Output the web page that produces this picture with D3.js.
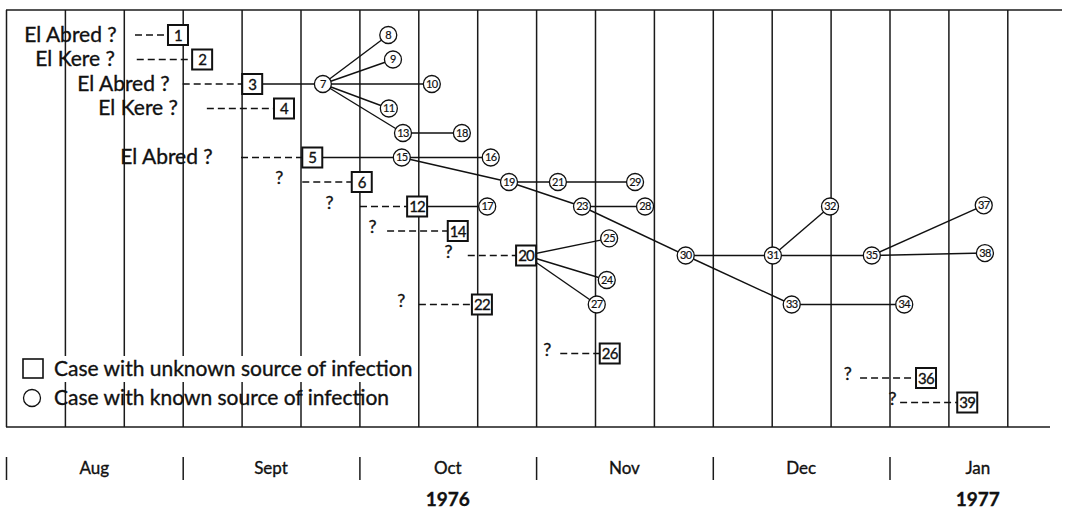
<!DOCTYPE html>
<html>
	<head>
		<meta charset="utf-8">
		<title>Transmission chart 1976-1977</title>
		<script src="https://cdn.jsdelivr.net/npm/d3@7"></script>
		<style>
			body { margin: 0; background: #fff; }
			text { font-family: Lato, "Open Sans", sans-serif; fill: #111; stroke: #111; stroke-width: 0.35px; }
		</style>
	</head>
	<body>
		<div id="root"></div>
		<script>
			//x values are in 10-day periods counted from 1 Aug 1976, rows count down from the top
			const monthNames = ["Aug", "Sept", "Oct", "Nov", "Dec", "Jan"];
			const yearLabels = ["1976", "1977"];
			const yearMonth = [2, 5];

			//cases with unknown source of infection (squares)
			const unknownIds = [1, 2, 3, 4, 5, 6, 12, 14, 20, 22, 26, 36, 39];
			const unknownX = [2.92, 3.33, 4.18, 4.72, 5.20, 6.04, 6.98, 7.67, 8.83, 8.08, 10.25, 15.62, 16.32];
			const unknownRow = [0, 1, 2, 3, 5, 6, 7, 8, 9, 11, 13, 14, 15];
			const sourceLabels = ["El Abred ?", "El Kere ?", "El Abred ?", "El Kere ?", "El Abred ?",
				"?", "?", "?", "?", "?", "?", "?", "?"];
			const sourceLabelEnd = [1.88, 1.85, 2.78, 2.92, 3.51, 4.71, 5.56, 6.29, 7.58, 6.78, 9.26, 14.36, 15.12];
			const dashStart = [2.19, 2.22, 3.00, 3.41, 3.99, 5.03, 6.01, 6.47, 7.84, 7.01, 9.41, 14.50, 15.18];

			//cases with known source of infection (circles)
			const knownIds = [7, 8, 9, 10, 11, 13, 15, 16, 17, 18, 19, 21, 23, 24, 25, 27, 28, 29, 30, 31, 32, 33, 34, 35, 37, 38];
			const knownX = [5.38, 6.49, 6.57, 7.23, 6.50, 6.74, 6.72, 8.23, 8.17, 7.74, 8.54, 9.37, 9.78, 10.20, 10.24, 10.03,
				10.85, 10.68, 11.54, 13.02, 13.99, 13.34, 15.25, 14.70, 16.60, 16.62];
			const knownRow = [2, 0, 1, 2, 3, 4, 5, 5, 7, 4, 6, 6, 7, 10, 8.3, 11, 7, 6, 9, 9, 7, 11, 11, 9, 6.95, 8.9];

			//who infected whom
			const linkFrom = [3, 7, 7, 7, 7, 7, 13, 5, 15, 15, 19, 21, 19, 23, 23, 12, 20, 20, 20, 30, 30, 31, 31, 33, 35, 35];
			const linkTo = [7, 8, 9, 10, 11, 13, 18, 15, 16, 19, 21, 29, 23, 28, 30, 17, 25, 24, 27, 31, 33, 32, 35, 34, 37, 38];

			const legendLabels = ["Case with unknown source of infection", "Case with known source of infection"];

			const width = 1065;
			const height = 512;
			const frameTop = 10;
			const frameBottom = 427;

			const xScale = d3.scaleLinear()
				.domain([0, 18])
				.range([6, 6 + 18 * 58.9]);

			const yScale = d3.scaleLinear()
				.domain([0, 15])
				.range([35, 402.5]);

			const svg = d3.select("#root")
				.append("svg")
				.attr("width", width)
				.attr("height", height)
				.style("display", "block")
				.style("background", "#fff");

			//vertical lines every 10 days
			const grid = svg.append("g")
				.attr("transform", "translate(0," + frameBottom + ")")
				.call(d3.axisBottom(xScale)
					.tickValues(d3.range(0, 18))
					.tickSize(-(frameBottom - frameTop))
					.tickFormat(""));
			grid.select(".domain").remove();
			grid.selectAll(".tick line")
				.attr("stroke", "#1a1a1a")
				.attr("stroke-width", 1.5);

			//top and bottom of the frame
			svg.append("line")
				.attr("x1", xScale(0)).attr("x2", 1062)
				.attr("y1", frameTop).attr("y2", frameTop)
				.attr("stroke", "#1a1a1a").attr("stroke-width", 1.5);
			svg.append("line")
				.attr("x1", xScale(0)).attr("x2", 1050)
				.attr("y1", frameBottom).attr("y2", frameBottom)
				.attr("stroke", "#1a1a1a").attr("stroke-width", 1.5);

			//month boundaries under the frame
			const monthAxis = svg.append("g")
				.attr("transform", "translate(0,457)")
				.call(d3.axisBottom(xScale)
					.tickValues(d3.range(0, 18, 3))
					.tickSize(23)
					.tickFormat(""));
			monthAxis.select(".domain").remove();
			monthAxis.selectAll(".tick line")
				.attr("stroke", "#1a1a1a")
				.attr("stroke-width", 1.5);

			svg.selectAll(".month")
				.data(monthNames)
				.enter()
				.append("text")
				.attr("class", "month")
				.attr("x", (d, i) => xScale(i * 3 + 1.5))
				.attr("y", 474)
				.attr("text-anchor", "middle")
				.attr("font-size", "17px")
				.text((d) => d);

			svg.selectAll(".year")
				.data(yearLabels)
				.enter()
				.append("text")
				.attr("class", "year")
				.attr("x", (d, i) => xScale(yearMonth[i] * 3 + 1.5))
				.attr("y", 506)
				.attr("text-anchor", "middle")
				.attr("font-size", "19px")
				.attr("font-weight", "bold")
				.text((d) => d);

			//build node lookup
			const nodes = {};
			unknownIds.forEach((id, i) => {
				nodes[id] = { id: id, x: unknownX[i], row: unknownRow[i], known: false };
			});
			knownIds.forEach((id, i) => {
				nodes[id] = { id: id, x: knownX[i], row: knownRow[i], known: true };
			});

			//dashed lines from the guessed source to the case
			svg.selectAll(".dash")
				.data(unknownIds)
				.enter()
				.append("line")
				.attr("class", "dash")
				.attr("x1", (d, i) => xScale(dashStart[i]))
				.attr("x2", (d, i) => xScale(unknownX[i]))
				.attr("y1", (d, i) => yScale(unknownRow[i]))
				.attr("y2", (d, i) => yScale(unknownRow[i]))
				.attr("stroke", "#111")
				.attr("stroke-width", 1.5)
				.attr("stroke-dasharray", "7,4");

			svg.selectAll(".source")
				.data(sourceLabels)
				.enter()
				.append("text")
				.attr("class", "source")
				.attr("x", (d, i) => xScale(sourceLabelEnd[i]))
				.attr("y", (d, i) => yScale(unknownRow[i]) + (d === "?" ? 2 : 6.5))
				.attr("text-anchor", "end")
				.attr("font-size", d => d === "?" ? "18px" : "21px")
				.text((d) => d);

			//transmission links
			svg.selectAll(".link")
				.data(linkFrom)
				.enter()
				.append("line")
				.attr("class", "link")
				.attr("x1", (d) => xScale(nodes[d].x))
				.attr("y1", (d) => yScale(nodes[d].row))
				.attr("x2", (d, i) => xScale(nodes[linkTo[i]].x))
				.attr("y2", (d, i) => yScale(nodes[linkTo[i]].row))
				.attr("stroke", "#111")
				.attr("stroke-width", 1.4);

			//squares
			const boxes = svg.selectAll(".box")
				.data(unknownIds)
				.enter()
				.append("g")
				.attr("class", "box")
				.attr("transform", (d) => "translate(" + xScale(nodes[d].x) + "," + yScale(nodes[d].row) + ")");
			boxes.append("rect")
				.attr("x", -10).attr("y", -10)
				.attr("width", 20).attr("height", 20)
				.attr("fill", "#fff")
				.attr("stroke", "#111")
				.attr("stroke-width", 2);
			boxes.append("text")
				.attr("text-anchor", "middle")
				.attr("y", 5.5)
				.attr("font-size", "15px")
				.attr("letter-spacing", "-0.8px")
				.text((d) => d);

			//circles
			const circles = svg.selectAll(".circ")
				.data(knownIds)
				.enter()
				.append("g")
				.attr("class", "circ")
				.attr("transform", (d) => "translate(" + xScale(nodes[d].x) + "," + yScale(nodes[d].row) + ")");
			circles.append("circle")
				.attr("r", 8.5)
				.attr("fill", "#fff")
				.attr("stroke", "#111")
				.attr("stroke-width", 1.3);
			circles.append("text")
				.attr("text-anchor", "middle")
				.attr("y", 3.9)
				.attr("font-size", "11px")
				.attr("letter-spacing", "-0.6px")
				.style("stroke-width", "0.2px")
				.text((d) => d);

			//legend, first row sits on a white patch in the original
			svg.append("rect")
				.attr("x", 16).attr("y", 356)
				.attr("width", 396).attr("height", 26)
				.attr("fill", "#fff");
			svg.append("rect")
				.attr("x", 23).attr("y", 359)
				.attr("width", 20).attr("height", 19)
				.attr("fill", "none")
				.attr("stroke", "#111")
				.attr("stroke-width", 1.6);
			svg.append("circle")
				.attr("cx", 32).attr("cy", 398)
				.attr("r", 8.5)
				.attr("fill", "none")
				.attr("stroke", "#111")
				.attr("stroke-width", 1.3);
			svg.selectAll(".legend")
				.data(legendLabels)
				.enter()
				.append("text")
				.attr("class", "legend")
				.attr("x", 54)
				.attr("y", (d, i) => 376 + i * 29)
				.attr("font-size", "21px")
				.text((d) => d);
		</script>
	</body>
</html>
